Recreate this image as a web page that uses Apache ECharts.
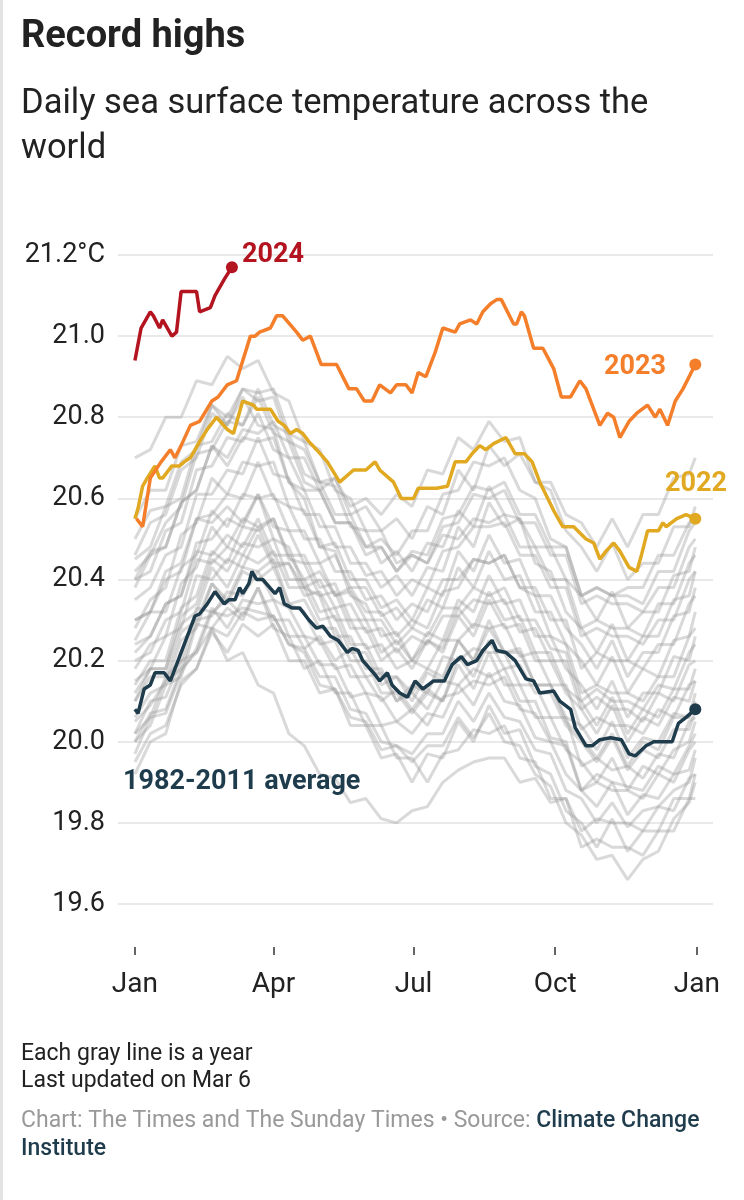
<!DOCTYPE html>
<html>
<head>
<meta charset="utf-8">
<script src="https://cdn.jsdelivr.net/npm/echarts@6/dist/echarts.min.js"></script>
<style>
html,body{margin:0;padding:0;background:#fff;}
#chart{width:744px;height:1200px;}
</style>
</head>
<body>
<div id="chart"></div>
<script>
// ---- axis ticks ----
const tickDays = [0, 90, 181, 273, 365];
const tickLabels = ['Jan', 'Apr', 'Jul', 'Oct', 'Jan'];

// ---- highlighted series (day of year, °C) ----
const days2024 = [0,4,10,12,16,18,24,27,30,40,42,49,52,58,63];
const vals2024 = [20.94,21.02,21.06,21.05,21.02,21.04,21.00,21.01,21.11,21.11,21.06,21.07,21.10,21.14,21.17];

const days2023 = [1,5,10,17,23,26,30,36,42,50,54,60,66,75,78,81,88,92,96,105,109,114,121,131,139,144,149,154,159,166,170,176,180,184,189,195,200,208,211,218,222,226,231,235,238,246,248,251,253,259,265,272,277,283,289,293,302,307,311,315,321,326,333,338,341,346,351,356,364];
const vals2023 = [20.55,20.53,20.65,20.69,20.72,20.70,20.73,20.78,20.79,20.84,20.85,20.88,20.89,21.00,21.00,21.01,21.02,21.05,21.05,21.01,20.99,21.00,20.93,20.93,20.87,20.87,20.84,20.84,20.88,20.86,20.88,20.88,20.86,20.91,20.90,20.96,21.02,21.01,21.03,21.04,21.03,21.06,21.08,21.09,21.09,21.03,21.03,21.06,21.05,20.97,20.97,20.92,20.85,20.85,20.89,20.87,20.78,20.81,20.80,20.75,20.79,20.81,20.83,20.80,20.82,20.78,20.84,20.87,20.93];

const days2022 = [0,2,5,8,13,16,18,24,29,32,36,42,47,53,60,64,70,77,79,88,93,97,101,105,109,113,118,125,133,142,150,156,159,168,173,181,184,196,203,208,215,219,224,228,233,241,247,253,258,263,272,278,285,293,298,302,306,311,315,321,326,329,333,340,343,345,352,358,364];
const vals2022 = [20.55,20.575,20.63,20.65,20.68,20.65,20.65,20.68,20.68,20.69,20.70,20.74,20.77,20.80,20.77,20.76,20.84,20.83,20.82,20.82,20.79,20.78,20.76,20.77,20.76,20.74,20.72,20.69,20.64,20.67,20.67,20.69,20.67,20.64,20.60,20.60,20.625,20.625,20.63,20.69,20.69,20.71,20.73,20.72,20.735,20.75,20.71,20.71,20.69,20.64,20.57,20.53,20.53,20.50,20.49,20.45,20.47,20.49,20.47,20.43,20.42,20.46,20.52,20.52,20.54,20.53,20.55,20.56,20.55];

const daysAvg = [0,2,6,10,13,16,19,23,28,34,39,42,47,52,58,61,65,68,70,74,76,79,83,91,94,97,102,107,113,118,122,127,132,138,141,145,148,155,159,164,167,172,177,182,187,194,201,206,212,216,222,226,232,235,241,247,254,259,263,272,276,283,286,293,297,302,309,316,321,325,332,337,343,349,353,358,364];
const valsAvg = [20.08,20.07,20.13,20.14,20.17,20.17,20.17,20.15,20.20,20.26,20.31,20.315,20.34,20.37,20.34,20.35,20.35,20.38,20.365,20.39,20.42,20.40,20.40,20.365,20.38,20.34,20.33,20.33,20.30,20.28,20.285,20.26,20.25,20.22,20.23,20.225,20.20,20.17,20.15,20.17,20.14,20.12,20.11,20.15,20.13,20.15,20.15,20.19,20.21,20.19,20.20,20.225,20.25,20.225,20.22,20.20,20.155,20.15,20.12,20.125,20.10,20.08,20.035,19.99,19.99,20.005,20.01,20.005,19.97,19.965,19.99,20.00,20.00,20.00,20.045,20.06,20.08];

// ---- gray years (sampled every 10 days) ----
const grayDays = [0,10,20,30,40,50,60,70,80,90,100,110,120,130,140,150,160,170,180,190,200,210,220,230,240,250,260,270,280,290,300,310,320,330,340,350,360,364];
const gray01 = [20.00,20.07,20.08,20.18,20.22,20.28,20.20,20.22,20.14,20.12,20.02,19.99,19.92,19.91,19.85,19.86,19.81,19.80,19.83,19.84,19.90,19.93,19.95,19.96,19.96,19.90,19.91,19.85,19.86,19.78,19.81,19.80,19.80,19.78,19.84,19.83,19.91,19.92];
const gray02 = [19.95,20.02,20.04,20.14,20.18,20.28,20.26,20.32,20.30,20.31,20.24,20.22,20.14,20.13,20.06,20.05,19.98,19.99,19.95,19.99,19.99,20.06,20.01,20.07,20.00,19.99,19.92,19.89,19.80,19.77,19.71,19.72,19.66,19.71,19.73,19.81,19.85,19.90];
const gray03 = [20.02,20.10,20.11,20.20,20.22,20.32,20.31,20.33,20.32,20.31,20.24,20.23,20.16,20.16,20.08,20.07,20.00,19.99,19.97,20.02,20.02,20.10,20.05,20.12,20.06,20.05,19.98,19.97,19.88,19.86,19.80,19.85,19.79,19.83,19.84,19.88,19.90,19.96];
const gray04 = [19.97,20.06,20.07,20.17,20.23,20.33,20.28,20.35,20.34,20.35,20.26,20.26,20.19,20.19,20.11,20.12,20.04,20.05,20.02,20.07,20.06,20.14,20.09,20.17,20.10,20.09,20.01,20.00,19.92,19.88,19.84,19.90,19.82,19.87,19.86,19.92,19.93,19.98];
const gray05 = [20.05,20.09,20.15,20.18,20.30,20.31,20.37,20.36,20.42,20.35,20.33,20.26,20.25,20.18,20.19,20.12,20.11,20.05,20.08,20.04,20.11,20.12,20.15,20.14,20.16,20.08,20.07,20.00,19.99,19.88,19.92,19.90,19.89,19.88,19.94,19.92,19.99,20.02];
const gray06 = [20.10,20.16,20.16,20.27,20.30,20.39,20.34,20.42,20.40,20.43,20.34,20.35,20.28,20.28,20.20,20.20,20.12,20.12,20.07,20.12,20.10,20.19,20.13,20.22,20.14,20.14,20.06,20.06,19.98,19.95,19.90,19.96,19.88,19.94,19.92,19.98,20.00,20.05];
const gray07 = [20.02,20.06,20.16,20.20,20.33,20.32,20.35,20.31,20.38,20.30,20.30,20.23,20.26,20.20,20.23,20.16,20.17,20.10,20.14,20.12,20.21,20.20,20.23,20.22,20.22,20.14,20.14,20.06,20.06,19.94,19.96,19.93,19.94,19.91,19.97,19.96,20.05,20.06];
const gray08 = [20.12,20.18,20.18,20.29,20.32,20.43,20.38,20.46,20.44,20.47,20.38,20.38,20.30,20.31,20.22,20.22,20.14,20.16,20.12,20.18,20.16,20.25,20.20,20.28,20.22,20.23,20.14,20.14,20.06,20.04,19.98,20.05,19.96,20.01,20.00,20.07,20.06,20.10];
const gray09 = [20.06,20.12,20.14,20.25,20.28,20.39,20.35,20.43,20.42,20.45,20.34,20.32,20.24,20.25,20.16,20.16,20.10,20.13,20.08,20.13,20.10,20.21,20.16,20.25,20.18,20.19,20.12,20.12,20.04,20.00,19.95,20.01,19.93,19.98,19.96,20.03,20.03,20.08];
const gray10 = [20.15,20.18,20.26,20.28,20.41,20.40,20.45,20.43,20.51,20.43,20.44,20.36,20.37,20.30,20.30,20.23,20.24,20.18,20.20,20.18,20.25,20.25,20.29,20.28,20.29,20.21,20.22,20.14,20.14,20.03,20.06,20.04,20.04,20.02,20.08,20.06,20.14,20.15];
const gray11 = [20.10,20.18,20.18,20.31,20.34,20.45,20.42,20.49,20.48,20.50,20.40,20.40,20.32,20.33,20.24,20.24,20.16,20.16,20.10,20.17,20.15,20.25,20.20,20.30,20.22,20.22,20.14,20.14,20.05,20.01,19.96,20.02,19.94,20.00,19.98,20.06,20.06,20.12];
const gray12 = [20.20,20.22,20.30,20.32,20.45,20.44,20.48,20.46,20.53,20.44,20.44,20.38,20.40,20.33,20.34,20.27,20.28,20.22,20.26,20.24,20.31,20.31,20.35,20.34,20.35,20.27,20.28,20.20,20.20,20.08,20.11,20.08,20.08,20.05,20.12,20.10,20.19,20.20];
const gray13 = [20.18,20.24,20.26,20.39,20.43,20.53,20.48,20.55,20.53,20.55,20.45,20.44,20.36,20.37,20.28,20.28,20.20,20.23,20.18,20.25,20.23,20.33,20.28,20.37,20.30,20.31,20.22,20.22,20.13,20.10,20.04,20.11,20.02,20.08,20.06,20.13,20.13,20.18];
const gray14 = [20.22,20.26,20.34,20.36,20.49,20.50,20.55,20.53,20.61,20.53,20.52,20.44,20.44,20.36,20.37,20.30,20.30,20.24,20.28,20.26,20.33,20.33,20.38,20.36,20.38,20.30,20.30,20.23,20.22,20.10,20.13,20.10,20.10,20.08,20.14,20.13,20.22,20.24];
const gray15 = [20.25,20.32,20.32,20.43,20.46,20.57,20.53,20.61,20.60,20.61,20.52,20.52,20.44,20.46,20.38,20.38,20.31,20.33,20.28,20.35,20.33,20.43,20.38,20.47,20.40,20.41,20.32,20.32,20.24,20.20,20.14,20.21,20.12,20.18,20.16,20.25,20.26,20.32];
const gray16 = [20.30,20.32,20.40,20.42,20.55,20.56,20.61,20.60,20.69,20.60,20.58,20.50,20.50,20.42,20.42,20.35,20.36,20.30,20.34,20.32,20.40,20.40,20.45,20.44,20.46,20.38,20.38,20.30,20.30,20.18,20.22,20.20,20.20,20.18,20.24,20.24,20.34,20.36];
const gray17 = [20.28,20.35,20.38,20.51,20.54,20.65,20.61,20.69,20.68,20.69,20.58,20.57,20.48,20.49,20.40,20.40,20.33,20.35,20.30,20.38,20.36,20.47,20.42,20.51,20.44,20.45,20.36,20.36,20.28,20.24,20.18,20.25,20.16,20.22,20.22,20.31,20.32,20.38];
const gray18 = [20.35,20.38,20.46,20.48,20.61,20.61,20.67,20.66,20.75,20.66,20.65,20.56,20.56,20.48,20.48,20.41,20.42,20.36,20.40,20.38,20.47,20.48,20.53,20.53,20.54,20.46,20.46,20.38,20.38,20.26,20.28,20.26,20.26,20.24,20.30,20.30,20.40,20.42];
const gray19 = [20.38,20.46,20.48,20.59,20.62,20.73,20.68,20.75,20.74,20.75,20.64,20.62,20.53,20.53,20.44,20.44,20.38,20.41,20.36,20.43,20.42,20.53,20.48,20.59,20.53,20.55,20.48,20.48,20.40,20.36,20.30,20.37,20.28,20.32,20.32,20.41,20.42,20.48];
const gray20 = [20.42,20.46,20.54,20.58,20.71,20.72,20.79,20.78,20.87,20.78,20.76,20.66,20.64,20.56,20.56,20.48,20.48,20.42,20.46,20.44,20.53,20.54,20.61,20.60,20.62,20.54,20.54,20.46,20.46,20.34,20.36,20.34,20.34,20.32,20.38,20.38,20.48,20.50];
const gray21 = [20.40,20.47,20.48,20.59,20.62,20.73,20.70,20.77,20.76,20.79,20.70,20.70,20.62,20.65,20.56,20.58,20.52,20.55,20.50,20.58,20.56,20.67,20.62,20.73,20.68,20.71,20.64,20.64,20.56,20.54,20.48,20.55,20.48,20.56,20.56,20.65,20.66,20.70];
const gray22 = [20.70,20.72,20.80,20.80,20.89,20.88,20.95,20.92,20.94,20.86,20.84,20.74,20.72,20.62,20.60,20.52,20.52,20.44,20.46,20.44,20.51,20.50,20.55,20.54,20.56,20.48,20.48,20.40,20.40,20.28,20.30,20.28,20.28,20.26,20.34,20.34,20.44,20.46];
const gray23 = [20.50,20.57,20.58,20.69,20.72,20.83,20.80,20.87,20.84,20.85,20.74,20.72,20.64,20.65,20.58,20.60,20.56,20.61,20.58,20.67,20.66,20.75,20.72,20.79,20.74,20.75,20.64,20.62,20.52,20.48,20.42,20.49,20.40,20.44,20.44,20.53,20.53,20.58];
const gray24 = [20.45,20.48,20.58,20.60,20.73,20.74,20.81,20.78,20.85,20.76,20.74,20.64,20.62,20.54,20.54,20.46,20.48,20.42,20.47,20.46,20.55,20.56,20.63,20.62,20.64,20.56,20.56,20.48,20.48,20.36,20.38,20.36,20.36,20.34,20.42,20.42,20.52,20.54];
const gray25 = [20.46,20.54,20.56,20.67,20.70,20.81,20.78,20.87,20.86,20.87,20.76,20.74,20.64,20.63,20.53,20.52,20.44,20.47,20.42,20.49,20.48,20.57,20.53,20.63,20.56,20.55,20.44,20.42,20.32,20.28,20.22,20.29,20.20,20.26,20.26,20.35,20.36,20.42];
const gray26 = [20.40,20.42,20.52,20.54,20.67,20.68,20.75,20.74,20.81,20.72,20.70,20.62,20.62,20.54,20.54,20.48,20.50,20.46,20.52,20.52,20.61,20.62,20.69,20.68,20.70,20.62,20.60,20.50,20.48,20.36,20.38,20.36,20.38,20.38,20.46,20.46,20.54,20.55];
const gray27 = [20.55,20.62,20.62,20.73,20.74,20.83,20.78,20.85,20.78,20.77,20.64,20.60,20.48,20.47,20.36,20.34,20.26,20.27,20.20,20.25,20.22,20.31,20.26,20.35,20.28,20.29,20.20,20.20,20.12,20.08,20.02,20.09,20.00,20.06,20.04,20.11,20.10,20.15];
const gray28 = [20.30,20.32,20.42,20.44,20.55,20.54,20.58,20.54,20.61,20.50,20.48,20.38,20.36,20.26,20.26,20.18,20.18,20.10,20.12,20.08,20.15,20.14,20.18,20.16,20.18,20.10,20.10,20.01,20.00,19.88,19.90,19.88,19.88,19.86,19.92,19.90,19.98,20.00];
const gray29 = [19.92,20.00,20.02,20.15,20.18,20.27,20.22,20.29,20.26,20.29,20.20,20.20,20.12,20.13,20.04,20.04,19.96,19.97,19.90,19.97,19.96,20.05,20.00,20.09,20.02,20.03,19.94,19.92,19.83,19.80,19.74,19.81,19.73,19.78,19.78,19.86,19.86,19.92];
const gray30 = [20.00,20.04,20.14,20.16,20.29,20.28,20.33,20.30,20.38,20.28,20.26,20.18,20.20,20.12,20.12,20.04,20.04,19.96,19.96,19.90,19.97,19.98,20.03,20.02,20.04,19.96,19.95,19.86,19.86,19.74,19.76,19.74,19.74,19.72,19.78,19.78,19.86,19.86];
const gray31 = [20.14,20.20,20.20,20.33,20.36,20.47,20.44,20.53,20.52,20.55,20.46,20.46,20.38,20.39,20.30,20.30,20.22,20.25,20.20,20.27,20.25,20.35,20.32,20.41,20.34,20.35,20.26,20.26,20.18,20.14,20.08,20.15,20.06,20.12,20.12,20.21,20.20,20.26];
const gray32 = [20.24,20.26,20.34,20.36,20.47,20.46,20.51,20.48,20.55,20.46,20.46,20.40,20.42,20.36,20.38,20.32,20.32,20.26,20.30,20.28,20.37,20.38,20.45,20.44,20.46,20.38,20.36,20.26,20.24,20.12,20.14,20.12,20.12,20.10,20.16,20.16,20.26,20.28];

const grayYears = [gray01,gray02,gray03,gray04,gray05,gray06,gray07,gray08,gray09,gray10,gray11,gray12,gray13,gray14,gray15,gray16,gray17,gray18,gray19,gray20,gray21,gray22,gray23,gray24,gray25,gray26,gray27,gray28,gray29,gray30,gray31,gray32];

// ---- colours ----
const C2024 = '#b3141f', C2023 = '#f47e2a', C2022 = '#e1a921', CAVG = '#1f3c4d';

function pairs(d, v) { return d.map((x, i) => [x, v[i]]); }
function last(d, v) { return [d[d.length - 1], v[v.length - 1]]; }

const series = [];
grayYears.forEach((g, i) => {
  series.push({
    type: 'line', name: 'gray' + i, data: pairs(grayDays, g),
    showSymbol: false, silent: true, z: 1,
    lineStyle: { color: 'rgba(150,150,150,0.36)', width: 3 }
  });
});
function mainLine(name, d, v, color, z) {
  series.push({ type: 'line', name, data: pairs(d, v), showSymbol: false, z,
    lineStyle: { color, width: 3.5 } });
  series.push({ type: 'scatter', data: [last(d, v)], symbolSize: 12, z: z + 1,
    itemStyle: { color, opacity: 1 } });
}
mainLine('avg', daysAvg, valsAvg, CAVG, 5);
mainLine('2022', days2022, vals2022, C2022, 7);
mainLine('2023', days2023, vals2023, C2023, 9);
mainLine('2024', days2024, vals2024, C2024, 11);

const chart = echarts.init(document.getElementById('chart'), null, { renderer: 'canvas' });
const FONT = 'Roboto, "Noto Sans", sans-serif';

chart.setOption({
  animation: false,
  backgroundColor: '#fff',
  textStyle: { fontFamily: FONT },
  grid: { left: 118, right: 31, top: 255, bottom: 296, containLabel: false },
  xAxis: {
    type: 'value', min: -11, max: 375.5, offset: 43,
    axisLine: { show: false },
    splitLine: { show: false },
    axisTick: { show: true, customValues: tickDays, length: 8, lineStyle: { color: '#333', width: 1.5 } },
    axisLabel: {
      customValues: tickDays, margin: 24, fontSize: 28, color: '#222', fontFamily: FONT,
      formatter: v => tickLabels[tickDays.indexOf(Math.round(v))] || ''
    }
  },
  yAxis: {
    type: 'value', min: 19.6, max: 21.2, interval: 0.2,
    axisLine: { show: false }, axisTick: { show: false },
    splitLine: { lineStyle: { color: '#e2e2e2', width: 1.5 } },
    axisLabel: {
      margin: 13, fontSize: 27, color: '#222', fontFamily: FONT,
      formatter: v => Math.abs(v - 21.2) < 1e-6 ? '21.2°C' : v.toFixed(1)
    }
  },
  series
});

// annotations placed via the chart's own scales
function px(day, val) { return chart.convertToPixel({ gridIndex: 0 }, [day, val]); }
const labelSpecs = [
  { text: '2024', at: [69.5, 21.2], color: C2024, align: 'left' },
  { text: '2023', at: [344.9, 20.923], color: C2023, align: 'right' },
  { text: '2022', at: [364.5, 20.635], color: C2022, align: 'center' },
  { text: '1982-2011 average', at: [-7.8, 19.901], color: CAVG, align: 'left' }
];
const graphics = [
  { type: 'rect', left: 0, top: 0, shape: { width: 3, height: 1200 }, style: { fill: '#e3e3e3' } },
  { type: 'text', x: 21, y: 37, style: { text: 'Record highs', font: 'bold 38px ' + FONT, fill: '#222', textVerticalAlign: 'middle' } },
  { type: 'text', x: 21, y: 104, style: { text: 'Daily sea surface temperature across the', font: '34.5px ' + FONT, fill: '#222', textVerticalAlign: 'middle' } },
  { type: 'text', x: 21, y: 149, style: { text: 'world', font: '34.5px ' + FONT, fill: '#222', textVerticalAlign: 'middle' } },
  { type: 'text', x: 21, y: 1054, style: { text: 'Each gray line is a year', font: '23px ' + FONT, fill: '#222', textVerticalAlign: 'middle' } },
  { type: 'text', x: 21, y: 1081, style: { text: 'Last updated on Mar 6', font: '23px ' + FONT, fill: '#222', textVerticalAlign: 'middle' } },
  { type: 'text', x: 21, y: 1121, style: {
      text: '{g|Chart: The Times and The Sunday Times • Source: }{b|Climate Change}',
      textVerticalAlign: 'middle',
      rich: {
        g: { fontSize: 23, fontFamily: FONT, fill: '#999999' },
        b: { fontSize: 23, fontFamily: FONT, fill: '#1f3c4d', fontWeight: 500 }
      }
  } },
  { type: 'text', x: 21, y: 1149, style: { text: 'Institute', font: '500 23px ' + FONT, fill: '#1f3c4d', textVerticalAlign: 'middle' } }
];
labelSpecs.forEach(s => {
  const p = px(s.at[0], s.at[1]);
  graphics.push({ type: 'text', x: p[0], y: p[1], z: 100, style: {
    text: s.text, font: 'bold 27px ' + FONT, fill: s.color, textAlign: s.align, textVerticalAlign: 'middle'
  } });
});
chart.setOption({ graphic: graphics });
</script>
</body>
</html>
